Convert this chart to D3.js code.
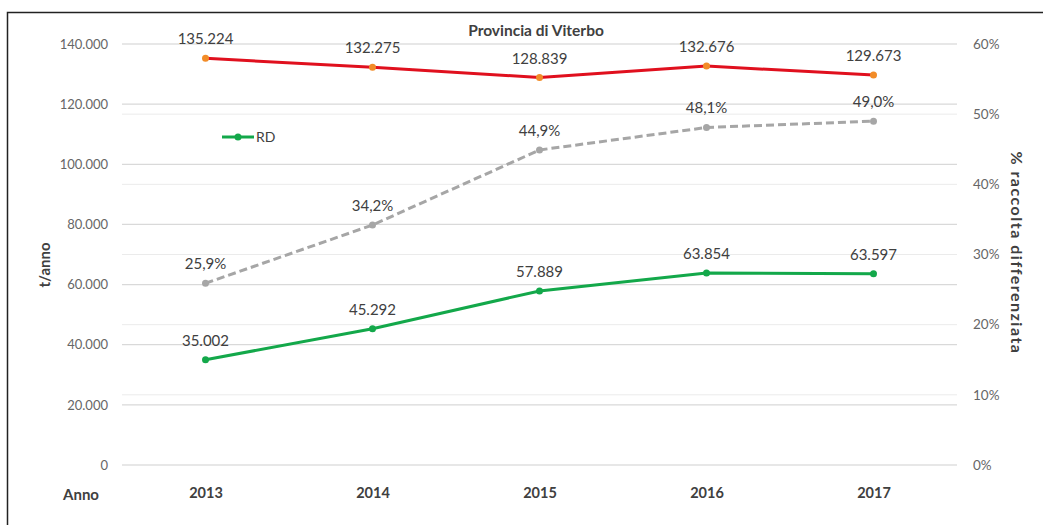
<!DOCTYPE html>
<html><head><meta charset="utf-8">
<script src="https://cdn.jsdelivr.net/npm/d3@7"></script>
<style>body{margin:0;background:#fff}svg{display:block}</style>
</head><body><svg id="c" width="1043" height="525"></svg>
<script>
const years = ["2013","2014","2015","2016","2017"];
const totale = [135224,132275,128839,132676,129673];
const rd = [35002,45292,57889,63854,63597];
const pctRD = [25.9,34.2,44.9,48.1,49.0];
const leftTicks = [0,20000,40000,60000,80000,100000,120000,140000];
const rightTicks = [0,10,20,30,40,50,60];

const svg = d3.select("#c");
const font = "Lato, 'Open Sans', sans-serif";
const L=122, R=957, T=44, B=465;
const x = d3.scalePoint().domain(years).range([L,R]).padding(0.5);
const y = d3.scaleLinear().domain([0,140000]).range([B,T]);
const y2 = d3.scaleLinear().domain([0,60]).range([B,T]);
const itFmt = d3.formatLocale({decimal:",",thousands:".",grouping:[3],currency:["","€"]});
const fmtN = itFmt.format(",d");
const fmtP = v => itFmt.format(".1f")(v)+"%";

svg.append("rect").attr("x",7.5).attr("y",12.5).attr("width",1100).attr("height",600)
  .attr("fill","none").attr("stroke","#222").attr("stroke-width",1.5);

// right-axis gridlines (lighter)
svg.append("g").selectAll("line").data(rightTicks).join("line")
  .attr("x1",L).attr("x2",R).attr("y1",d=>y2(d)).attr("y2",d=>y2(d))
  .attr("stroke","#ebebeb").attr("stroke-width",1);
// left-axis gridlines
svg.append("g").selectAll("line").data(leftTicks).join("line")
  .attr("x1",L).attr("x2",R).attr("y1",d=>y(d)).attr("y2",d=>y(d))
  .attr("stroke","#d9d9d9").attr("stroke-width",1.2);

// left axis
const ga = svg.append("g").attr("transform",`translate(${L-6},0)`)
  .call(d3.axisLeft(y).tickValues(leftTicks).tickFormat(d=>fmtN(d)).tickSize(0).tickPadding(8));
ga.select(".domain").remove();
ga.selectAll("text").attr("font-family",font).attr("font-size",13).attr("fill","#666");
// right axis
const gb = svg.append("g").attr("transform",`translate(${R+8},0)`)
  .call(d3.axisRight(y2).tickValues(rightTicks).tickFormat(d=>d+"%").tickSize(0).tickPadding(8));
gb.select(".domain").remove();
gb.selectAll("text").attr("font-family",font).attr("font-size",13.5).attr("fill","#666");
// x axis
const gx = svg.append("g").attr("transform",`translate(0,${B+19})`)
  .call(d3.axisBottom(x).tickSize(0).tickPadding(4));
gx.select(".domain").remove();
gx.selectAll("text").attr("font-family",font).attr("font-size",14.5).attr("font-weight","bold").attr("fill","#404040");

svg.append("text").attr("x",81).attr("y",500).attr("text-anchor","middle")
  .attr("font-family",font).attr("font-size",15).attr("font-weight","bold").attr("fill","#404040").text("Anno");
svg.append("text").attr("transform","translate(50,265) rotate(-90)").attr("text-anchor","middle")
  .attr("font-family",font).attr("font-size",15).attr("font-weight","bold").attr("fill","#404040").text("t/anno");
svg.append("text").attr("transform","translate(1011,253) rotate(90)").attr("text-anchor","middle")
  .attr("font-family",font).attr("font-size",16).attr("letter-spacing",1.5).attr("font-weight","bold").attr("fill","#404040").text("% raccolta differenziata");
svg.append("text").attr("x",536).attr("y",36).attr("text-anchor","middle")
  .attr("font-family",font).attr("font-size",15.5).attr("font-weight","bold").attr("fill","#404040").text("Provincia di Viterbo");

// series
const line = d3.line().x((d,i)=>x(years[i]));
svg.append("path").datum(pctRD).attr("d",line.y(d=>y2(d))).attr("fill","none")
  .attr("stroke","#a6a6a6").attr("stroke-width",3).attr("stroke-dasharray","8,4");
svg.append("g").selectAll("circle").data(pctRD).join("circle")
  .attr("cx",(d,i)=>x(years[i])).attr("cy",d=>y2(d)).attr("r",3.5).attr("fill","#a6a6a6");

svg.append("path").datum(totale).attr("d",d3.line().x((d,i)=>x(years[i])).y(d=>y(d))).attr("fill","none")
  .attr("stroke","#e0101e").attr("stroke-width",3);
svg.append("g").selectAll("circle").data(totale).join("circle")
  .attr("cx",(d,i)=>x(years[i])).attr("cy",d=>y(d)).attr("r",3.5).attr("fill","#f28c28");

svg.append("path").datum(rd).attr("d",d3.line().x((d,i)=>x(years[i])).y(d=>y(d))).attr("fill","none")
  .attr("stroke","#13a84a").attr("stroke-width",3);
svg.append("g").selectAll("circle").data(rd).join("circle")
  .attr("cx",(d,i)=>x(years[i])).attr("cy",d=>y(d)).attr("r",3.5).attr("fill","#13a84a");

// labels
const lab = (data, ys, fmt) => svg.append("g").selectAll("text").data(data).join("text")
  .attr("x",(d,i)=>x(years[i])).attr("y",d=>ys(d)-14).attr("text-anchor","middle")
  .attr("font-family",font).attr("font-size",15).attr("fill","#404040").text(fmt);
lab(totale, y, fmtN);
lab(rd, y, fmtN);
lab(pctRD, y2, fmtP);

// legend
svg.append("line").attr("x1",222).attr("x2",254).attr("y1",137).attr("y2",137).attr("stroke","#13a84a").attr("stroke-width",3);
svg.append("circle").attr("cx",238).attr("cy",137).attr("r",3.5).attr("fill","#13a84a");
svg.append("text").attr("x",256).attr("y",142).attr("font-family",font).attr("font-size",14).attr("fill","#404040").text("RD");
</script></body></html>
